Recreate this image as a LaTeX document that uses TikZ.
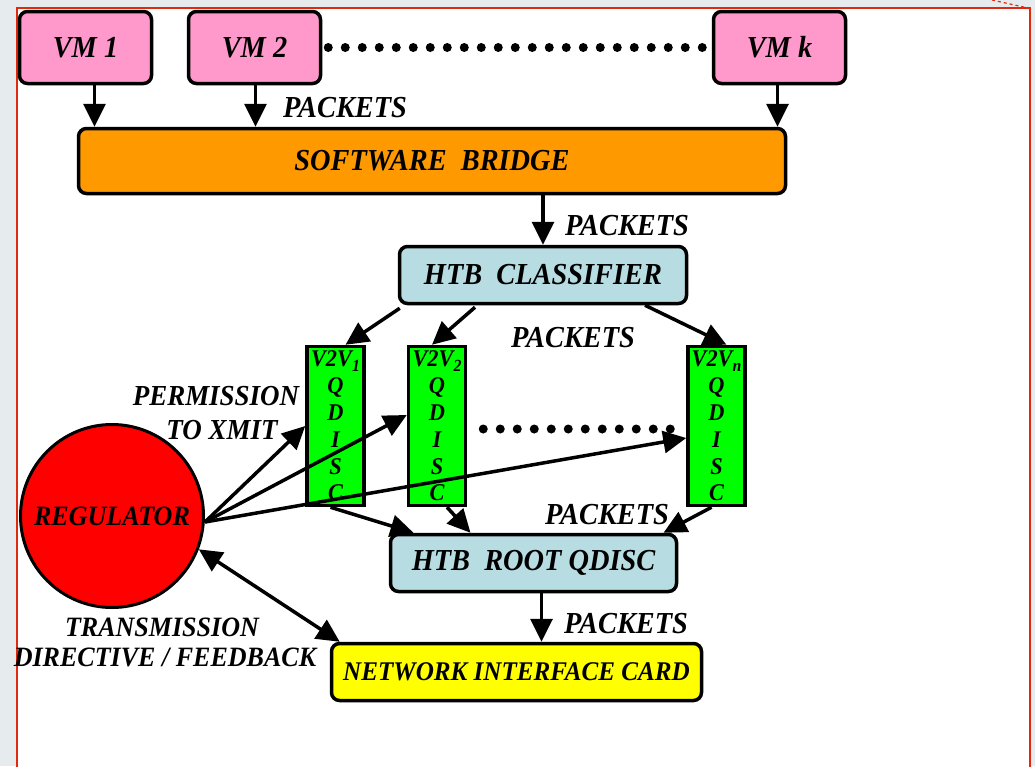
\documentclass[tikz,border=0pt]{standalone}
\usepackage{fontspec}
\setmainfont[FakeStretch=0.93]{Liberation Serif}
\usetikzlibrary{arrows.meta,positioning}

\definecolor{vmpink}{HTML}{FF99CC}
\definecolor{bridgeorange}{HTML}{FF9900}
\definecolor{htbblue}{HTML}{B7DDE3}
\definecolor{qdiscgreen}{HTML}{00FF00}
\definecolor{nicyellow}{HTML}{FFFF00}
\definecolor{framered}{HTML}{E02A10}
\definecolor{pagegrey}{HTML}{E6ECEE}

\tikzset{
  bi/.style={font=\fontsize{#1}{#1}\selectfont\bfseries\itshape},
  box/.style={draw, line width=3.5pt, rounded corners=8pt, inner sep=0pt, bi=30.5},
  vmbox/.style={box, fill=vmpink, minimum width=132pt, minimum height=72pt},
  qdisc/.style={draw, line width=3.5pt, fill=qdiscgreen, inner sep=0pt, align=center,
    minimum width=57pt, minimum height=159pt, font=\fontsize{24}{26.8}\selectfont\bfseries\itshape},
  lbl/.style={inner sep=0pt, bi=30.5, align=center},
  tip/.tip={Triangle[length=23pt,width=22pt]},
  arr/.style={line width=3.5pt, -tip},
  dots/.style={line width=9pt, line cap=round, dash pattern=on 0pt off 17pt}
}
\newcommand{\vsub}[1]{\raisebox{-0.45ex}{\fontsize{17}{17}\selectfont #1}}

\begin{document}
\begin{tikzpicture}[x=1pt,y=-1pt]
\useasboundingbox (0,0) rectangle (1035,766);
% page and frame
\fill[pagegrey] (0,0) rectangle (1035,766);
\draw[framered, line width=1.5pt, fill=white] (17,775) -- (17,8) -- (1030,8) -- (1030,775);
\draw[framered, line width=1.2pt, dashed] (992,0) -- (1028,8);

% virtual machines
\node[vmbox] (vm1) at (85.5,47.5) {VM 1};
\node[vmbox] (vm2) at (254.5,47.5) {VM 2};
\node[vmbox] (vmk) at (779.5,47.5) {VM k};
\draw[dots] ([xshift=6pt]vm2.east) -- ([xshift=-2pt]vmk.west);

\node[box, fill=bridgeorange, minimum width=707pt, minimum height=65pt] (bridge) at (432,161) {SOFTWARE\ \ BRIDGE};
\node[box, fill=htbblue, minimum width=287pt, minimum height=57pt] (cls) at (543,275) {HTB\ \ CLASSIFIER};

% per-destination queues
\node[qdisc] (q1) at (335.5,426) {V2V\vsub{1}\\Q\\D\\I\\S\\C};
\node[qdisc] (q2) at (437,426) {V2V\vsub{2}\\Q\\D\\I\\S\\C};
\node[qdisc] (qn) at (716.5,426) {V2V\vsub{n}\\Q\\D\\I\\S\\C};
\draw[dots] ([xshift=16pt,yshift=-3pt]q2.east) -- ([xshift=-2pt,yshift=-3pt]qn.west);

\node[box, fill=htbblue, minimum width=286pt, minimum height=57pt] (root) at (533.5,563) {HTB\ \ ROOT QDISC};
\node[box, fill=nicyellow, minimum width=370pt, minimum height=57pt, bi=27] (nic) at (516.5,672) {NETWORK INTERFACE CARD};

\node[draw, circle, line width=3pt, fill=red, minimum size=183pt, inner sep=0pt, bi=28] (reg) at (112,516) {REGULATOR};

% labels
\node[lbl] (pk1) at (345,108) {PACKETS};
\node[lbl] (pk2) at (627,226) {PACKETS};
\node[lbl] (pk3) at (573,338) {PACKETS};
\node[lbl] (pk4) at (607,515) {PACKETS};
\node[lbl] (pk5) at (626,624) {PACKETS};
\node[lbl, bi=29] (perm) at (216,396) {PERMISSION};
\node[lbl, bi=29] (xmit) at (222,430) {TO XMIT};
\node[lbl, bi=28] (trans) at (162,627) {TRANSMISSION};
\node[lbl, bi=28] (dirfb) at (165,657) {DIRECTIVE / FEEDBACK};

% packet flow
\draw[arr] ([xshift=9pt]vm1.south) -- ([xshift=9pt]vm1.south |- bridge.north);
\draw[arr] ([xshift=1pt]vm2.south) -- ([xshift=1pt]vm2.south |- bridge.north);
\draw[arr] ([xshift=-2pt]vmk.south) -- ([xshift=-2pt]vmk.south |- bridge.north);
\draw[arr] (cls.north |- bridge.south) -- (cls.north);
\draw[arr] ([xshift=2pt,yshift=-3pt]cls.south west) -- ([xshift=10pt]q1.north);
\draw[arr] ([xshift=-68pt,yshift=-2pt]cls.south) -- ([xshift=-5pt]q2.north);
\draw[arr] ([xshift=102pt]cls.south) -- ([xshift=10pt]qn.north);
\draw[arr] ([xshift=-5pt]q1.south) -- ([xshift=-120pt]root.north);
\draw[arr] ([xshift=10pt]q2.south) -- ([xshift=-63pt]root.north);
\draw[arr] ([xshift=-5pt]qn.south) -- ([xshift=130pt]root.north);
\draw[arr] ([xshift=8pt]root.south) -- ([xshift=8pt]root.south |- nic.north);

% control
\draw[arr] ([yshift=-6pt]reg.east) -- (q1.west);
\draw[arr] ([yshift=-6pt]reg.east) -- ([yshift=11pt]q2.west);
\draw[arr] ([yshift=-6pt]reg.east) -- ([yshift=-12pt]qn.west);
\draw[arr, tip-tip] (reg.-21) -- ([xshift=10pt]nic.north west);
\end{tikzpicture}
\end{document}
